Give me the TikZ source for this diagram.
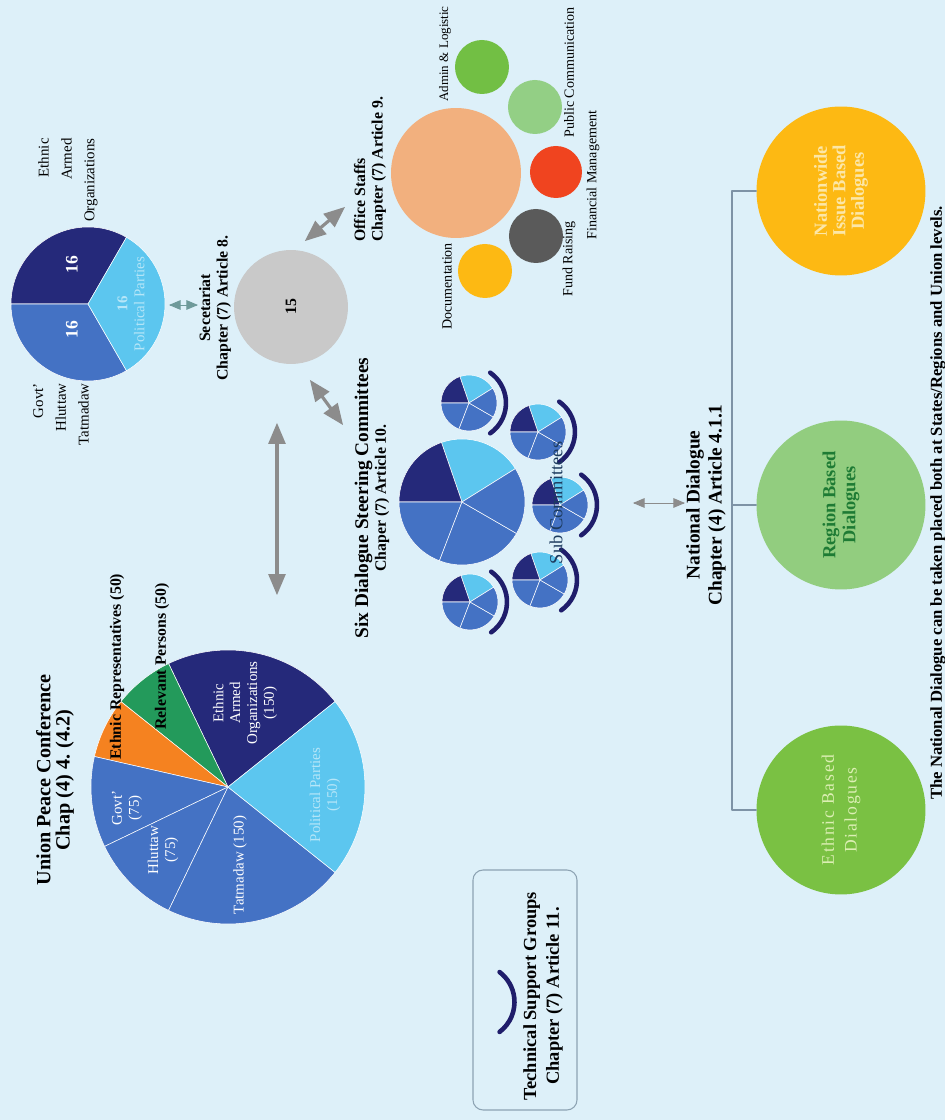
\documentclass[tikz,border=0pt]{standalone}
\usepackage{fontspec}
\setmainfont{Liberation Serif}
\usepackage{tikz}
\usetikzlibrary{arrows}
\definecolor{ddfqfz}{rgb}{0.867,0.941,0.976}
\definecolor{svszxa}{rgb}{0.145,0.161,0.478}
\definecolor{vccwef}{rgb}{0.361,0.776,0.937}
\definecolor{uuxscu}{rgb}{0.267,0.447,0.769}
\definecolor{fvyssq}{rgb}{0.961,0.51,0.125}
\definecolor{stzavb}{rgb}{0.137,0.604,0.357}
\definecolor{bwewfy}{rgb}{0.714,0.902,0.973}
\definecolor{czczcz}{rgb}{0.788,0.788,0.788}
\definecolor{ycycyc}{rgb}{0.549,0.549,0.549}
\definecolor{wezaza}{rgb}{0.431,0.604,0.604}
\definecolor{fsbqxe}{rgb}{0.949,0.69,0.494}
\definecolor{xsbfuu}{rgb}{0.447,0.749,0.267}
\definecolor{ztcfyv}{rgb}{0.576,0.812,0.522}
\definecolor{fquurf}{rgb}{0.941,0.267,0.122}
\definecolor{vavava}{rgb}{0.353,0.353,0.353}
\definecolor{fdbzrt}{rgb}{0.992,0.725,0.075}
\definecolor{zscdxf}{rgb}{0.573,0.804,0.498}
\definecolor{xacrut}{rgb}{0.478,0.757,0.263}
\definecolor{fcexay}{rgb}{0.988,0.906,0.659}
\definecolor{dcefbu}{rgb}{0.863,0.937,0.706}
\definecolor{rexbtu}{rgb}{0.118,0.482,0.204}
\definecolor{rdtbve}{rgb}{0.114,0.231,0.369}
\definecolor{xeztaw}{rgb}{0.494,0.576,0.651}
\definecolor{ydatbt}{rgb}{0.553,0.639,0.702}
\definecolor{rfrdwb}{rgb}{0.122,0.114,0.42}
\newcommand{\pieslice}[5]{\filldraw[fill=#5,draw=white,line width=0.3pt] (#1) -- ++(#2:#4) arc (#2:#3:#4) -- cycle;}
\newcommand{\subpie}[2]{\pieslice{#1}{-58}{19}{#2}{vccwef}\pieslice{#1}{19}{90}{#2}{svszxa}\pieslice{#1}{90}{159}{#2}{uuxscu}\pieslice{#1}{159}{240}{#2}{uuxscu}\pieslice{#1}{240}{302}{#2}{uuxscu}}
\tikzstyle{every node}=[font=\fontsize{9}{10}\selectfont]
\tikzstyle{lbl}=[font=\bfseries\fontsize{9}{10}\selectfont,align=center]
\tikzstyle{ttlbl}=[font=\bfseries\fontsize{11}{12.4}\selectfont,align=center]
\tikzstyle{side}=[font=\fontsize{8.5}{13}\selectfont,align=right,inner sep=0pt]
\tikzstyle{staff}=[font=\fontsize{8}{9}\selectfont,inner sep=0pt]
\tikzstyle{rep}=[font=\bfseries\fontsize{9}{10}\selectfont,inner sep=0pt]
\tikzstyle{inpie}=[font=\fontsize{8.5}{9.6}\selectfont,align=center,text=white]
\tikzstyle{bubble}=[circle,inner sep=0pt,align=center]
\tikzstyle{link}=[<->,line width=1.8pt,color=ycycyc]
\tikzstyle{hint}=[<->,line width=0.5pt]
\tikzstyle{tsgarc}=[line width=2.6pt,color=rfrdwb]

\begin{document}
\begin{tikzpicture}[line cap=round,line join=round,>=triangle 45,x=0.02cm,y=0.02cm,rotate=90,transform shape]
\useasboundingbox (0,0) rectangle (1120,945);
\clip(0,0) rectangle (1120,945);
\fill[color=ddfqfz] (0,0) rectangle (1120,945);

% council of the parties
\node[side,anchor=east] (cnl) at (737,884) {Govt'\\Hluttaw\\Tatmadaw};
\node[side,anchor=east] (cnr) at (982,877) {Ethnic\\Armed\\Organizations};
\coordinate (cpie) at (816,857);
\pieslice{cpie}{-30}{90}{77}{svszxa}
\pieslice{cpie}{90}{210}{77}{uuxscu}
\pieslice{cpie}{210}{330}{77}{vccwef}
\node[font=\bfseries\fontsize{10}{11}\selectfont,text=white] (c1) at (855,873) {16};
\node[font=\bfseries\fontsize{10}{11}\selectfont,text=white] (c2) at (790,873) {16};
\begin{scope}
\clip (cpie) circle (77);
\node[inpie,text=bwewfy] (c3) at (816,814) {{\bfseries 16}\\Political Parties};
\end{scope}

% secretariat
\node[lbl] (secl) at (812,730) {Secetariat\\Chapter (7) Article 8.};
\coordinate (s1) at (815,776);
\coordinate (s2) at (815,747);
\draw[hint,color=wezaza] (s1) -- (s2);
\node[bubble,fill=czczcz,minimum size=2.28cm,font=\bfseries\fontsize{9}{10}\selectfont] (sec) at (813,654) {15};

% office staffs
\node[lbl,align=left,anchor=west] (staffl) at (872,575) {Office Staffs\\Chapter (7) Article 9.};
\node[bubble,fill=fsbqxe,minimum size=2.6cm] (offc) at (947,489) {};
\node[bubble,fill=xsbfuu,minimum size=1.08cm] (adm) at (1053,463) {};
\node[bubble,fill=ztcfyv,minimum size=1.08cm] (pub) at (1013,410) {};
\node[bubble,fill=fquurf,minimum size=1.04cm] (fin) at (948,389) {};
\node[bubble,fill=vavava,minimum size=1.08cm] (fund) at (884,409) {};
\node[bubble,fill=fdbzrt,minimum size=1.08cm] (doc) at (849,460) {};
\node[staff,font=\fontsize{7.4}{9}\selectfont,anchor=west] (adml) at (1018,500) {Admin \& Logistic};
\node[staff,anchor=west] (publ) at (982,376) {Public Communication};
\node[staff,anchor=west] (finl) at (880,352) {Financial Management};
\node[staff,anchor=west] (fundl) at (823,376) {Fund Raising};
\node[staff,anchor=west] (docl) at (790,498) {Documentation};

\coordinate (o1) at (879,640);
\coordinate (o2) at (913,600);
\draw[link] (o1) -- (o2);
\coordinate (d1) at (740,635);
\coordinate (d2) at (695,602);
\draw[link] (d1) -- (d2);
\coordinate (u1) at (525,668);
\coordinate (u2) at (697,668);
\draw[link] (u1) -- (u2);

% steering committees
\node[lbl] (sixl) at (622,573) {{\fontsize{11}{12}\selectfont Six Dialogue Steering Committees}\\Chaper (7) Article 10.};
\coordinate (sp0) at (618,483);
\coordinate (sp1) at (717,476);
\coordinate (sp2) at (688,407);
\coordinate (sp3) at (615,385);
\coordinate (sp4) at (540,405);
\coordinate (sp5) at (518,475);
\subpie{sp0}{63}
\subpie{sp1}{28}
\subpie{sp2}{28}
\subpie{sp3}{28}
\subpie{sp4}{28}
\subpie{sp5}{28}
\draw[tsgarc] (sp1) ++(-145:37) arc (-145:-35:37);
\draw[tsgarc] (sp2) ++(-145:37) arc (-145:-35:37);
\draw[tsgarc] (sp3) ++(-145:37) arc (-145:-35:37);
\draw[tsgarc] (sp4) ++(-145:37) arc (-145:-35:37);
\draw[tsgarc] (sp5) ++(-145:37) arc (-145:-35:37);
\node[font=\fontsize{10.5}{12}\selectfont,text=rdtbve] (subc) at (617,389) {Sub Committees};

% national dialogue
\node[ttlbl] (natl) at (615,239) {National Dialogue\\Chapter (4) Article 4.1.1};
\coordinate (n1) at (617,312);
\coordinate (n2) at (617,260);
\draw[hint,color=ycycyc] (n1) -- (n2);
\node[bubble,fill=xacrut,minimum size=3.38cm,text=dcefbu,font=\fontsize{10}{13}\selectfont\addfontfeature{LetterSpace=10}] (eth) at (310,104) {Ethnic Based\\Dialogues};
\node[bubble,fill=zscdxf,minimum size=3.38cm,text=rexbtu,font=\bfseries\fontsize{10.5}{11.5}\selectfont] (reg) at (615,104) {Region Based\\Dialogues};
\node[bubble,fill=fdbzrt,minimum size=3.38cm,text=fcexay,font=\bfseries\fontsize{10.5}{10.5}\selectfont] (nat) at (929,104) {Nationwide\\Issue Based\\Dialogues};
\coordinate (bl) at (310,213);
\coordinate (bm) at (615,213);
\coordinate (br) at (929,213);
\draw[line width=0.8pt,color=xeztaw] (eth) -- (bl) -- (br) -- (nat);
\draw[line width=0.8pt,color=xeztaw] (reg) -- (bm);
\node[font=\bfseries\fontsize{9.5}{11}\selectfont,anchor=base] (note) at (617,3) {The National Dialogue can be taken placed both at States/Regions and Union levels.};

% technical support groups
\node[draw=ydatbt,line width=0.6pt,rounded corners=0.2cm,minimum width=4.8cm,minimum height=2.08cm] (tsgbox) at (130,420) {};
\coordinate (tsgc) at (118,468);
\draw[tsgarc] (tsgc) ++(-143:37.5) arc (-143:-37:37.5);
\node[font=\bfseries\fontsize{10.5}{13}\selectfont,align=center] (tsgl) at (124,402) {Technical Support Groups\\Chapter (7) Article 11.};

% union peace conference
\node[ttlbl,font=\bfseries\fontsize{11.5}{11}\selectfont] (upc) at (340,890) {Union Peace Conference\\Chap (4) 4. (4.2)};
\coordinate (bpie) at (333,717);
\pieslice{bpie}{-51.43}{25.71}{137}{svszxa}
\pieslice{bpie}{25.71}{51.43}{137}{stzavb}
\pieslice{bpie}{51.43}{77.14}{137}{fvyssq}
\pieslice{bpie}{77.14}{115.71}{137}{uuxscu}
\pieslice{bpie}{115.71}{154.29}{137}{uuxscu}
\pieslice{bpie}{154.29}{231.43}{137}{uuxscu}
\pieslice{bpie}{231.43}{308.57}{137}{vccwef}
\node[inpie] (eaol) at (417,700) {Ethnic\\Armed\\Organizations\\(150)};
\node[inpie,text=bwewfy] (ppl) at (325,620) {Political Parties\\(150)};
\node[inpie] (tatl) at (255,705) {Tatmadaw (150)};
\node[inpie] (hlul) at (270,782) {Hluttaw\\(75)};
\node[inpie] (govl) at (312,818) {Govt'\\(75)};
\node[rep,anchor=west] (erl) at (360,828) {Ethnic Representatives (50)};
\node[rep,anchor=west] (rpl) at (390,783) {Relevant Persons (50)};
\end{tikzpicture}
\end{document}
